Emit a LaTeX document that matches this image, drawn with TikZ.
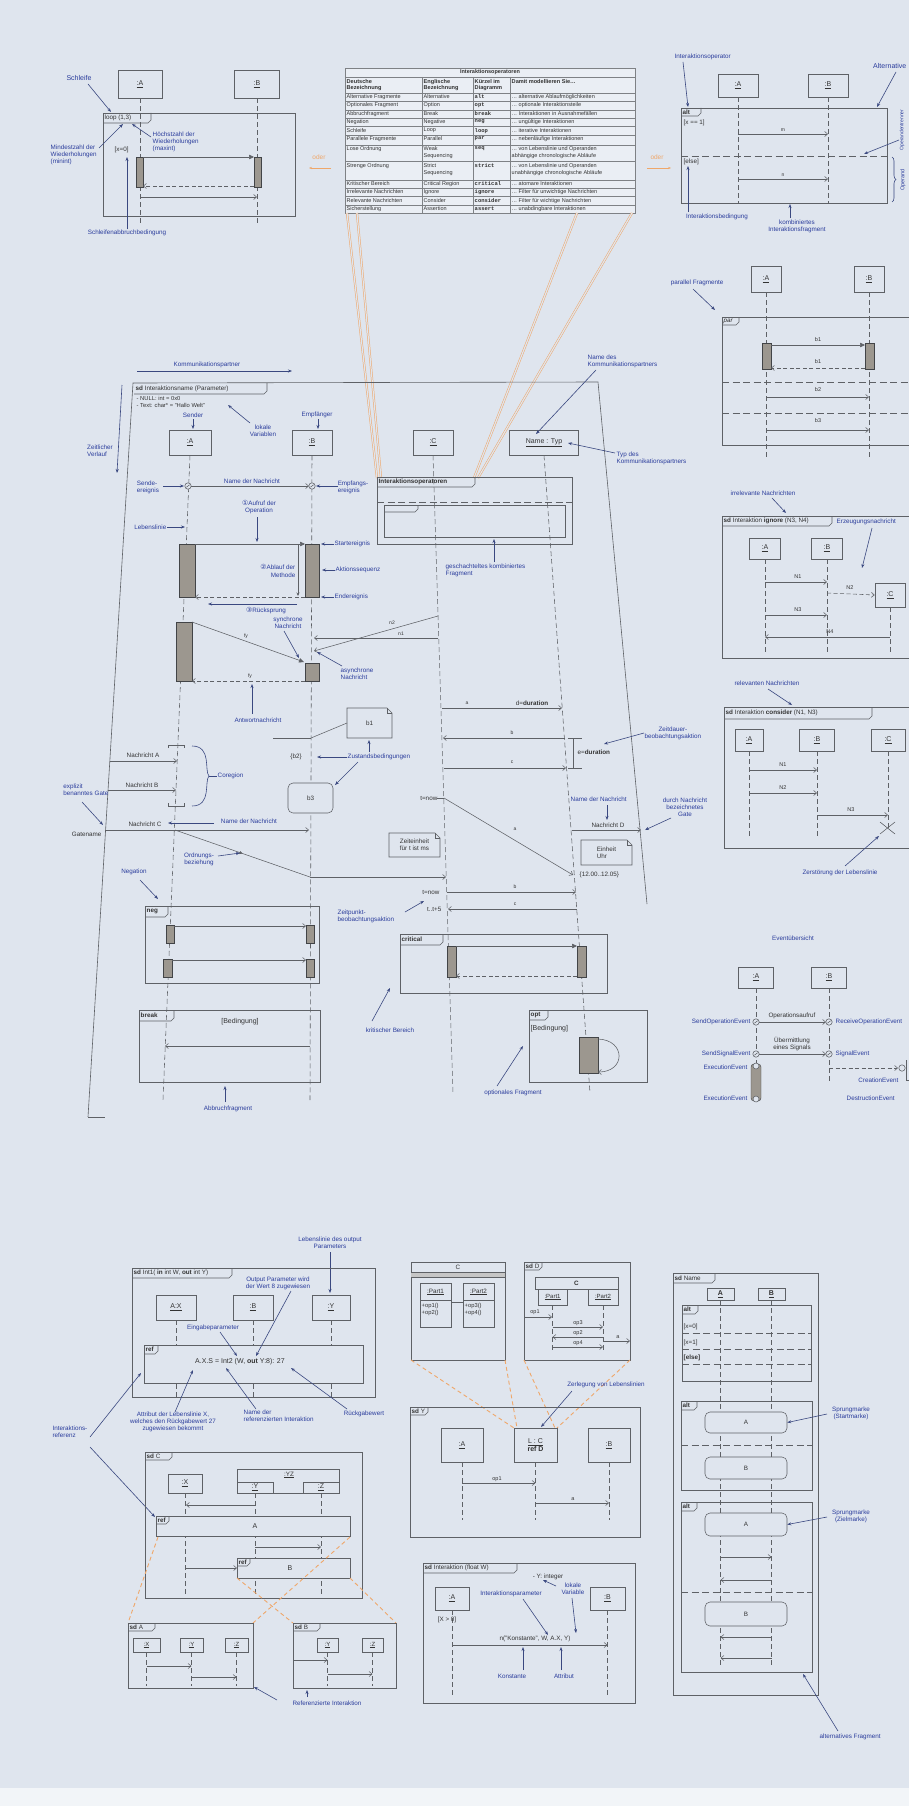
\documentclass[tikz,border=0pt]{standalone}
\usepackage{fontspec}
\setmainfont{Liberation Sans}
\setmonofont{Liberation Mono}
\newfontfamily\dvs{DejaVu Sans}
\usetikzlibrary{arrows.meta,decorations.pathreplacing,decorations.markings,calc}
\definecolor{bgc}{HTML}{DFE5EE}
\definecolor{linec}{HTML}{5E6166}
\definecolor{bluec}{HTML}{2A3C9C}
\definecolor{arrc}{HTML}{3A4880}
\definecolor{barc}{HTML}{9C978F}
\definecolor{orc}{HTML}{EFA76A}
\definecolor{txtc}{HTML}{333333}
\tikzset{
 ln/.style={draw=linec, line width=0.55pt},
 life/.style={draw=linec, line width=0.55pt, dash pattern=on 5pt off 3pt},
 msg/.style={draw=linec, line width=0.55pt, -{Straight Barb[length=3pt,width=5pt]}},
 syncm/.style={draw=linec, line width=0.55pt, -{Triangle[length=5pt,width=4.5pt]}},
 retm/.style={msg, dash pattern=on 4pt off 2.5pt},
 fsep/.style={draw=linec, line width=0.6pt, dash pattern=on 7pt off 3.5pt},
 frm/.style={draw=linec, line width=0.6pt},
 actbar/.style={draw=linec!70!black, fill=barc, line width=0.4pt},
 lbox/.style={draw=linec, line width=0.55pt, inner sep=0pt, text=txtc, font=\fontsize{7}{8}\selectfont},
 lbl/.style={text=bluec, font=\fontsize{6.3}{7.2}\selectfont, inner sep=0.5pt, align=center},
 blk/.style={text=txtc, font=\fontsize{6.3}{7.2}\selectfont, inner sep=0.5pt, align=center},
 larr/.style={draw=arrc, line width=0.6pt, -{Stealth[length=4pt,width=3pt]}},
 oline/.style={draw=orc, line width=0.5pt, double=bgc, double distance=1.2pt},
 odash/.style={draw=orc, line width=0.9pt, dash pattern=on 4pt off 3pt},
 tabtxt/.style={text=txtc, font=\fontsize{6.3}{7}\selectfont, inner sep=1pt},
 tc/.style={text=txtc, font=\fontsize{5.5}{6.6}\selectfont, inner sep=1pt, align=left},
 tline/.style={draw=linec!80, line width=0.4pt},
}
% fragment tab: x y w h text
\newcommand\fragtab[5]{%
 \draw[frm] (#1,#2+#4) -- (#1+#3-3,#2+#4) -- (#1+#3,#2+#4-3) -- (#1+#3,#2);
 \node[tabtxt, anchor=west] at (#1+0.5,#2+#4/2) {#5};}
% note: x1 y1 x2 y2 text
\newcommand\notebox[5]{%
 \draw[frm] (#1,#2) -- (#3-5,#2) -- (#3,#2+5) -- (#3,#4) -- (#1,#4) -- cycle;
 \draw[frm] (#3-5,#2) -- (#3-5,#2+5) -- (#3,#2+5);
 \node[blk, align=left] at ({(#1+#3)/2},{(#2+#4)/2}) {#5};}
% event circle
\newcommand\evc[2]{\draw[ln, fill=bgc] (#1,#2) circle (3.2pt); \draw[ln] (#1-1.6,#2+1.2) -- (#1+1.6,#2-1.2);}
% table row: ytop de en kz desc ybottom
\newcommand\trow[6]{%
 \node[tc,anchor=north west] at (345.5,#1) {#2};
 \node[tc,anchor=north west] at (422.5,#1) {#3};
 \node[tc,anchor=north west,font={\fontsize{5.5}{6.6}\selectfont\ttfamily\bfseries}] at (473.5,#1) {#4};
 \node[tc,anchor=north west] at (510.5,#1) {#5};
 \draw[tline] (345,#6) -- (635,#6);}
\begin{document}
\begin{tikzpicture}[x=1pt,y=-1pt]
\useasboundingbox (0,0) rectangle (909,1806);
\fill[bgc] (0,0) rectangle (909,1806);
\fill[white!60!bgc] (0,1788) rectangle (909,1806);

%================ 1: loop =================
\node[lbox,minimum width=44,minimum height=28] (L1A) at (140,84) {\underline{:A}};
\node[lbox,minimum width=45,minimum height=28] (L1B) at (257,84) {\underline{:B}};
\draw[life] (L1A.south) -- ++(0,126);
\draw[life] (L1B.south) -- ++(0,126);
\draw[frm] (103,113) rectangle (295,216);
\fragtab{103}{113}{48}{10}{loop (1,3)}
\draw[actbar] (136,157) rectangle (143,187);
\draw[actbar] (254,157) rectangle (261,187);
\draw[syncm] (143,157) -- (254,157);
\draw[retm] (254,186) -- (143,186);
\draw[msg] (140,197) -- (257,197);
\node[blk, anchor=west] (lc1) at (114,150) {[x=0]};
\node[lbl, font=\fontsize{7}{8}\selectfont] (schl) at (79,78) {Schleife};
\draw[larr] (88,84) -- (111,112);
\node[lbl, align=left, anchor=west] (minl) at (50,155) {Mindestzahl der\\Wiederholungen\\(minint)};
\draw[larr] (99,148) -- (123,124);
\node[lbl, align=left, anchor=west] (maxl) at (152,142) {Höchstzahl der\\Wiederholungen\\(maxint)};
\draw[larr] (151,137) -- (132,124);
\node[lbl] (abbr) at (127,233) {Schleifenabbruchbedingung};
\draw[larr] (abbr.north) -- (127,157);
\node[text=orc, font=\fontsize{6.5}{7}\selectfont] (oder1) at (319,157) {oder};
\draw[draw=orc, line width=0.7pt, -{Stealth[length=3pt]}] (331,168) -- (309,168);

%================ 2: table =================
\fill[white!35!bgc] (345,68) rectangle (635,213);
\draw[tline] (345,68) rectangle (635,213);
\draw[tline] (345,77) -- (635,77);
\draw[tline] (345,93) -- (635,93);
\foreach \cx in {422,473,510} \draw[tline] (\cx,77) -- (\cx,213);
\node[tc, font={\fontsize{5.5}{6.6}\selectfont\bfseries}] (tabh) at (490,72.5) {Interaktionsoperatoren};
\node[tc,anchor=north west,font={\fontsize{5.6}{6.4}\selectfont\bfseries}] at (345.5,78) {Deutsche\\Bezeichnung};
\node[tc,anchor=north west,font={\fontsize{5.6}{6.4}\selectfont\bfseries}] at (422.5,78) {Englische\\Bezeichnung};
\node[tc,anchor=north west,font={\fontsize{5.6}{6.4}\selectfont\bfseries}] at (473.5,78) {Kürzel im\\Diagramm};
\node[tc,anchor=north west,font={\fontsize{5.6}{6.4}\selectfont\bfseries}] at (510.5,78) {Damit modellieren Sie…};
\trow{93.2}{Alternative Fragmente}{Alternative}{alt}{… alternative Ablaufmöglichkeiten}{101.3}
\trow{101.5}{Optionales Fragment}{Option}{opt}{… optionale Interaktionsteile}{110}
\trow{110.2}{Abbruchfragment}{Break}{break}{… Interaktionen in Ausnahmefällen}{118.3}
\trow{118.5}{Negation}{Negative}{neg}{… ungültige Interaktionen}{126.7}
\trow{126.9}{Schleife}{Loop}{loop}{… iterative Interaktionen}{135}
\trow{135.5}{Parallele Fragmente}{Parallel}{par}{… nebenläufige Interaktionen}{145}
\trow{145.5}{Lose Ordnung}{Weak\\Sequencing}{seq}{… von Lebenslinie und Operanden\\abhängige chronologische Abläufe}{161.7}
\trow{162.5}{Strenge Ordnung}{Strict\\Sequencing}{strict}{… von Lebenslinie und Operanden\\unabhängige chronologische Abläufe}{180}
\trow{180.2}{Kritischer Bereich}{Critical Region}{critical}{… atomare Interaktionen}{188.3}
\trow{188.5}{Irrelevante Nachrichten}{Ignore}{ignore}{… Filter für unwichtige Nachrichten}{196.7}
\trow{196.9}{Relevante Nachrichten}{Consider}{consider}{… Filter für wichtige Nachrichten}{205}
\trow{205.2}{Sicherstellung}{Assertion}{assert}{… unabdingbare Interaktionen}{213}

%================ 3: alt top right =================
\node[lbox,minimum width=40,minimum height=23] (L3A) at (738,85.5) {\underline{:A}};
\node[lbox,minimum width=40,minimum height=23] (L3B) at (828,85.5) {\underline{:B}};
\draw[life] (L3A.south) -- (738,203);
\draw[life] (L3B.south) -- (828,203);
\draw[frm] (681,108) rectangle (887,203);
\fragtab{681}{108}{20}{8}{\textbf{alt}}
\node[blk, anchor=west] (c3a) at (683,123) {[x == 1]};
\draw[msg] (738,134) -- (828,134);
\node[blk, font=\fontsize{5}{6}\selectfont] at (783,130) {m};
\draw[fsep] (681,156) -- (887,156);
\node[blk, anchor=west] (c3b) at (683,162) {[else]};
\draw[msg] (738,179) -- (828,179);
\node[blk, font=\fontsize{5}{6}\selectfont] at (783,175) {n};
\node[lbl, anchor=west] (iop) at (674,57) {Interaktionsoperator};
\draw[larr] (683,62) -- (688,107);
\node[lbl, anchor=east, font=\fontsize{7}{8}\selectfont] (altl) at (907,66) {Alternative};
\draw[larr] (896,72) -- (877,107);
\node[lbl] (ibed) at (717,217) {Interaktionsbedingung};
\draw[larr] (688,212) -- (688,166);
\node[lbl] (kif) at (797,226) {kombiniertes\\Interaktionsfragment};
\draw[larr] (790,218) -- (790,204);
\node[lbl, rotate=90, font=\fontsize{5}{6}\selectfont] (otr) at (902,130) {Operandentrenner};
\draw[larr] (899,140) -- (864,154);
\draw[draw=arrc, line width=0.6pt, decorate, decoration={brace, amplitude=4pt}] (892,157) -- (892,202);
\node[lbl, rotate=90, font=\fontsize{5.5}{6}\selectfont] (opd) at (903,180) {Operand};
\node[text=orc, font=\fontsize{6.5}{7}\selectfont] (oder2) at (657,157) {oder};
\draw[draw=orc, line width=0.7pt, -{Stealth[length=3pt]}] (647,168) -- (671,168);

%================ orange lines table -> operators =================
\draw[oline] (347,213) -- (377,478);
\draw[oline] (357,213) -- (381,478);
\draw[oline] (577,213) -- (474,478);
\draw[oline] (632,213) -- (478,478);

%================ 4: main diagram =================
\node[lbl] (komm) at (207,365) {Kommunikationspartner};
\draw[larr] (137,371) -- (292,371);
\node[lbl, align=left] (zeit) at (100,451) {Zeitlicher\\Verlauf};
\draw[larr] (122,385) -- (117,473);
\draw[frm] (88,1117) -- (133,383) -- (598,382) -- (647,904);
\draw[frm] (88,1117) -- (105,1117);
\fragtab{134}{383}{133}{11}{\textbf{sd} Interaktionsname (Parameter)}
\node[blk, anchor=north west, align=left, font=\fontsize{5.8}{6.5}\selectfont] (locv) at (136,396) {- NULL: int = 0x0\\- Text: char* = "Hallo Welt"};
\node[lbl] (lokv) at (263,431) {lokale\\Variablen};
\draw[larr] (250,423) -- (228,405);
% lifeline heads
\node[lbox,minimum width=42,minimum height=25] (mA) at (190,442.5) {\underline{:A}};
\node[lbox,minimum width=40,minimum height=25] (mB) at (312,442.5) {\underline{:B}};
\node[lbox,minimum width=40,minimum height=25] (mC) at (433,442.5) {\underline{:C}};
\node[lbox,minimum width=69,minimum height=25] (mN) at (544,442.5) {\underline{Name : Typ}};
\draw[life] (mA.south) -- (163,1100);
\draw[life] (mB.south) -- (310,1100);
\draw[life] (mC.south) -- (453,1093);
\draw[life] (mN.south) -- (590,1093);
\node[lbl] (snd) at (193,415) {Sender};
\draw[larr] (193,419) -- (193,429);
\node[lbl] (emp) at (317,415) {Empfänger};
\draw[larr] (318,419) -- (318,429);
% first message
\evc{188}{486}\evc{312}{486}
\draw[msg] (191,486) -- (309,486);
\node[lbl] (ndn1) at (252,481) {Name der Nachricht};
\node[lbl, align=left] (sev) at (148,487) {Sende-\\ereignis};
\draw[larr] (163,486) -- (184,486);
\node[lbl, align=left] (eev) at (353,487) {Empfangs-\\ereignis};
\draw[larr] (338,486) -- (316,486);
\node[lbl] (aufr) at (259,507) {{\dvs\fontsize{7}{7}\selectfont ①}Aufruf der\\Operation};
\draw[larr] (257,517) -- (257,542);
\node[lbl, anchor=east] (lebl) at (167,527) {Lebenslinie};
\draw[larr] (lebl.east) -- (185,527);
% interaction operators fragment
\draw[frm] (377,477) rectangle (572,544);
\fragtab{377}{477}{98}{10}{\textbf{Interaktionsoperatoren}}
\draw[fsep] (377,502) -- (572,502);
\draw[frm] (384,505) rectangle (565,537);
\fragtab{384}{505}{34}{7}{}
\node[lbl, anchor=north west, align=left] (gkf) at (445,563) {geschachteltes kombiniertes\\Fragment};
\draw[larr] (494,562) -- (494,539);
\node[lbl, anchor=west, align=left] (ndk) at (587,361) {Name des\\Kommunikationspartners};
\draw[larr] (596,370) -- (536,434);
\node[lbl, anchor=west, align=left] (tdk) at (616,458) {Typ des\\Kommunikationspartners};
\draw[larr] (615,453) -- (568,443);
% activation 1
\draw[actbar] (179,544) rectangle (195,597);
\draw[actbar] (305,544) rectangle (319,597);
\draw[syncm] (195,544) -- (305,544);
\draw[ln, -{Stealth[length=3.5pt,width=3pt]}] (298,545) -- (298,596);
\draw[retm] (305,597) -- (195,597);
\node[lbl, anchor=east, align=right] (abl) at (296,571) {{\dvs\fontsize{7}{7}\selectfont ②}Ablauf der\\Methode};
\draw[larr] (297,604) -- (208,604);
\node[lbl] (rsp) at (266,611) {{\dvs\fontsize{7}{7}\selectfont ③}Rücksprung};
\node[lbl, anchor=west] (stev) at (334,544) {Startereignis};
\draw[larr] (stev.west) -- (321,544);
\node[lbl, anchor=west] (akts) at (335,570) {Aktionssequenz};
\draw[larr] (akts.west) -- (322,570);
\node[lbl, anchor=west] (endev) at (334,597) {Endereignis};
\draw[larr] (endev.west) -- (321,597);
% activation 2
\draw[actbar] (176,622) rectangle (192,681);
\draw[actbar] (305,663) rectangle (319,681);
\draw[syncm] (192,622) -- (304,662);
\node[blk, font=\fontsize{5}{6}\selectfont] at (246,636) {fy};
\draw[retm] (305,681) -- (192,681);
\node[blk, font=\fontsize{5}{6}\selectfont] at (250,676) {fy};
\node[lbl] (synn) at (288,623) {synchrone\\Nachricht};
\draw[larr] (284,631) -- (299,658);
\draw[msg] (438,616) -- (314,651);
\node[blk, font=\fontsize{5}{6}\selectfont] at (392,623) {n2};
\draw[msg] (438,638) -- (314,638);
\node[blk, font=\fontsize{5}{6}\selectfont] at (401,634) {n1};
\node[lbl, align=left] (asyn) at (357,674) {asynchrone\\Nachricht};
\draw[larr] (342,666) -- (317,652);
\node[lbl] (antw) at (258,720) {Antwortnachricht};
\draw[larr] (252,714) -- (252,684);
% states
\notebox{347}{708}{392}{738}{b1}
\draw[ln] (347,723) -- (311,738);
\draw[ln] (273,738) -- (311,738);
\node[blk] (b2) at (296,757) {\{b2\}};
\node[lbl, anchor=west] (zust) at (347,757) {Zustandsbedingungen};
\draw[larr] (zust.west) -- (317,757);
\draw[larr] (369,752) -- (369,740);
\draw[larr] (358,762) -- (335,785);
\node[draw=linec, line width=0.55pt, fill=bgc, rounded corners=5pt, minimum width=45, minimum height=30, blk] (b3) at (310.5,798) {b3};
% coregion
\draw[ln] (168,748) -- (168,745) -- (184,745) -- (184,748);
\draw[ln] (168,803) -- (168,806) -- (184,806) -- (184,803);
\draw[msg] (110,761) -- (177,761);
\node[blk] (nA) at (143,755) {Nachricht A};
\draw[msg] (108,790) -- (176,790);
\node[blk] (nB) at (142,785) {Nachricht B};
\draw[draw=arrc, line width=0.6pt] (192,746) .. controls (212,746) and (204,771) .. (209,776) .. controls (204,781) and (212,806) .. (192,806);
\node[lbl, anchor=west] (coreg) at (217,776) {Coregion};
\draw[draw=arrc, line width=0.6pt] (209,776) -- (coreg.west);
% gates
\node[lbl, anchor=east, align=left] (exg) at (109,790) {explizit\\benanntes Gate};
\draw[larr] (82,802) -- (103,825);
\node[blk, anchor=east] (gname) at (102,834) {Gatename};
\draw[msg] (105,830) -- (309,830);
\node[blk] (nC) at (145,824) {Nachricht C};
\node[lbl] (ndn2) at (249,821) {Name der Nachricht};
\draw[larr] (214,823) -- (168,823);
\draw[ln, postaction={decorate, decoration={markings, mark=at position 0.5 with {\arrow{Triangle[length=3pt,width=3pt]}}}}] (175,830) -- (310,877);
\draw[msg] (310,877) -- (446,877);
\node[lbl] (ordb) at (199,859) {Ordnungs-\\beziehung};
\draw[larr] (218,856) -- (240,853);
% neg
\node[lbl] (negl) at (134,872) {Negation};
\draw[larr] (140,880) -- (158,899);
\draw[frm] (145,906) rectangle (319,983);
\fragtab{145}{906}{23}{11}{\textbf{neg}}
\draw[actbar] (166,925) rectangle (174,943);
\draw[actbar] (163,959) rectangle (172,977);
\draw[actbar] (306,925) rectangle (314,943);
\draw[actbar] (306,959) rectangle (314,977);
\draw[msg] (174,926) -- (306,926);
\draw[msg] (172,960) -- (306,960);
% break
\draw[frm] (139,1010) rectangle (320,1082);
\fragtab{139}{1010}{35}{11}{\textbf{break}}
\node[blk, font=\fontsize{7}{8}\selectfont] (bed1) at (240,1022) {[Bedingung]};
\draw[msg] (310,1046) -- (165,1046);
\node[lbl] (abfr) at (228,1109) {Abbruchfragment};
\draw[larr] (225,1102) -- (225,1086);
% durations
\draw[msg] (442,708) -- (562,708);
\node[blk, font=\fontsize{5}{6}\selectfont] at (467,703) {a};
\node[blk] (dd) at (532,703) {d=\textbf{duration}};
\draw[msg] (565,738) -- (443,738);
\node[blk, font=\fontsize{5}{6}\selectfont] at (512,733) {b};
\draw[msg] (444,768) -- (566,768);
\node[blk, font=\fontsize{5}{6}\selectfont] at (512,762) {c};
\draw[ln] (573,738) -- (573,768);
\draw[ln] (568,738) -- (582,738);
\draw[ln] (568,768) -- (582,768);
\node[blk, anchor=west] (ed) at (577,752) {e=\textbf{duration}};
\node[lbl, anchor=west] (zdb) at (644,733) {Zeitdauer-\\beobachtungsaktion};
\draw[larr] (zdb.west) -- (604,744);
% time points
\node[blk, anchor=east] (tnow1) at (438,798) {t=now};
\draw[ln] (437,798) -- (444,798);
\draw[msg] (444,798) -- (573,875);
\node[blk, font=\fontsize{5}{6}\selectfont] at (515,829) {a};
\node[lbl, anchor=west] (ndn3) at (570,799) {Name der Nachricht};
\draw[larr] (607,805) -- (607,820);
\draw[msg] (572,830) -- (641,830);
\node[blk] (nD) at (608,825) {Nachricht D};
\node[lbl] (gate2) at (685,807) {durch Nachricht\\bezeichnetes\\Gate};
\draw[larr] (671,818) -- (645,830);
\notebox{581}{840}{632}{865}{Einheit\\Uhr}
\node[blk, anchor=west] (clk) at (579,875) {\{12.00..12.05\}};
\notebox{389}{833}{440}{857}{Zeiteinheit\\für t ist ms}
\node[blk, anchor=east] (tnow2) at (440,892) {t=now};
\draw[msg] (447,892) -- (576,892);
\node[blk, font=\fontsize{5}{6}\selectfont] at (515,887) {b};
\node[blk, anchor=east] (tt5) at (442,909) {t..t+5};
\draw[msg] (577,909) -- (448,909);
\node[blk, font=\fontsize{5}{6}\selectfont] at (515,904) {c};
\node[lbl, anchor=west, align=left] (zpb) at (337,916) {Zeitpunkt-\\beobachtungsaktion};
\draw[larr] (405,912) -- (424,901);
% critical
\draw[frm] (400,934) rectangle (607,993);
\fragtab{400}{934}{43}{11}{\textbf{critical}}
\draw[actbar] (447,946) rectangle (456,977);
\draw[actbar] (577,946) rectangle (586,977);
\draw[syncm] (456,946) -- (577,946);
\draw[retm] (577,976) -- (456,976);
\node[lbl] (krit) at (390,1030) {kritischer Bereich};
\draw[larr] (372,1021) -- (390,988);
% opt
\draw[frm] (529,1010) rectangle (647,1082);
\fragtab{529}{1010}{19}{10}{\textbf{opt}}
\node[blk, anchor=west, font=\fontsize{7}{8}\selectfont] (bed2) at (530,1029) {[Bedingung]};
\draw[actbar] (579,1037) rectangle (598,1073);
\draw[msg] (598,1039) .. controls (626,1040) and (626,1072) .. (598,1072);
\node[lbl] (optf) at (513,1093) {optionales Fragment};
\draw[larr] (497,1086) -- (523,1046);

%================ 5: par =================
\node[lbox,minimum width=30,minimum height=26] (pA) at (766,279) {\underline{:A}};
\node[lbox,minimum width=30,minimum height=26] (pB) at (869,279) {\underline{:B}};
\draw[life] (pA.south) -- (766,458);
\draw[life] (pB.south) -- (869,458);
\draw[frm] (722,317) rectangle (915,445);
\fragtab{722}{317}{17}{8}{\textit{par}}
\node[lbl, anchor=east] (parl) at (724,283) {parallel Fragmente};
\draw[larr] (693,289) -- (715,310);
\draw[actbar] (762,343) rectangle (771,369);
\draw[actbar] (865,343) rectangle (874,369);
\draw[syncm] (771,345) -- (865,345);
\node[blk, font=\fontsize{5.5}{6}\selectfont] at (818,340) {b1};
\draw[retm] (865,368) -- (771,368);
\node[blk, font=\fontsize{5.5}{6}\selectfont] at (818,362) {b1};
\draw[fsep] (722,382) -- (909,382);
\draw[msg] (766,397) -- (869,397);
\node[blk, font=\fontsize{5.5}{6}\selectfont] at (818,390) {b2};
\draw[fsep] (722,413) -- (909,413);
\draw[msg] (766,430) -- (869,430);
\node[blk, font=\fontsize{5.5}{6}\selectfont] at (818,421) {b3};

%================ 6: ignore =================
\node[lbl] (irr) at (763,493) {irrelevante Nachrichten};
\draw[larr] (772,498) -- (786,513);
\draw[frm] (722,516) rectangle (915,658);
\fragtab{722}{516}{110}{10}{\textbf{sd} Interaktion \textbf{ignore} (N3, N4)}
\node[lbox,minimum width=31,minimum height=21] (iA) at (765,548.5) {\underline{:A}};
\node[lbox,minimum width=31,minimum height=21] (iB) at (827,548.5) {\underline{:B}};
\node[lbox,minimum width=30,minimum height=24] (iC) at (890,595) {\underline{:C}};
\draw[life] (iA.south) -- (765,652);
\draw[life] (iB.south) -- (827,652);
\draw[life] (iC.south) -- (890,652);
\draw[msg] (765,582) -- (827,582);
\node[blk, font=\fontsize{5.5}{6}\selectfont] at (798,577) {N1};
\draw[retm] (827,593) -- (iC.west);
\node[blk, font=\fontsize{5.5}{6}\selectfont] at (850,588) {N2};
\draw[msg] (765,615) -- (827,615);
\node[blk, font=\fontsize{5.5}{6}\selectfont] at (798,610) {N3};
\draw[msg] (890,637) -- (765,637);
\node[blk, font=\fontsize{5.5}{6}\selectfont] at (830,632) {N4};
\node[lbl, anchor=west] (erz) at (836,522) {Erzeugungsnachricht};
\draw[larr] (872,528) -- (862,568);

%================ 7: consider =================
\node[lbl] (rel) at (767,683) {relevanten Nachrichten};
\draw[larr] (768,689) -- (792,705);
\draw[frm] (724,707) rectangle (915,848);
\fragtab{724}{707}{148}{12}{\textbf{sd} Interaktion \textbf{consider} (N1, N3)}
\node[lbox,minimum width=28,minimum height=22] (cA) at (749,740) {\underline{:A}};
\node[lbox,minimum width=35,minimum height=22] (cB) at (817,740) {\underline{:B}};
\node[lbox,minimum width=34,minimum height=22] (cC) at (888,740) {\underline{:C}};
\draw[life] (cA.south) -- (749,837);
\draw[life] (cB.south) -- (817,837);
\draw[life] (cC.south) -- (888,828);
\draw[msg] (749,770) -- (817,770);
\node[blk, font=\fontsize{5.5}{6}\selectfont] at (783,765) {N1};
\draw[msg] (749,793) -- (817,793);
\node[blk, font=\fontsize{5.5}{6}\selectfont] at (783,788) {N2};
\draw[msg] (817,815) -- (888,815);
\node[blk, font=\fontsize{5.5}{6}\selectfont] at (851,810) {N3};
\draw[ln] (880,822) -- (895,834);
\draw[ln] (880,834) -- (895,822);
\node[lbl] (zerst) at (840,873) {Zerstörung der Lebenslinie};
\draw[larr] (845,866) -- (879,836);

%================ 8: events =================
\node[lbl] (evu) at (793,938) {Eventübersicht};
\node[lbox,minimum width=35,minimum height=21] (eA) at (756,977.5) {\underline{:A}};
\node[lbox,minimum width=35,minimum height=21] (eB) at (829,977.5) {\underline{:B}};
\draw[life] (eA.south) -- (756,1083);
\draw[life] (eB.south) -- (829,1083);
\draw[msg] (759,1022) -- (826,1022);
\evc{756}{1022}\evc{829}{1022}
\node[blk] (opa) at (792,1016) {Operationsaufruf};
\node[lbl, anchor=east] (soe) at (751,1022) {SendOperationEvent};
\node[lbl, anchor=west] (roe) at (835,1022) {ReceiveOperationEvent};
\node[blk] (ues) at (792,1044) {Übermittlung\\eines Signals};
\draw[msg] (759,1054) -- (826,1054);
\evc{756}{1054}\evc{829}{1054}
\node[lbl, anchor=east] (sse) at (751,1054) {SendSignalEvent};
\node[lbl, anchor=west] (sie) at (835,1054) {SignalEvent};
\draw[actbar, rounded corners=3pt] (751,1064) rectangle (761,1101);
\draw[ln, fill=bgc] (756,1066) circle (3pt);
\draw[ln, fill=bgc] (756,1099) circle (3pt);
\node[lbl, anchor=east] (exe1) at (748,1067) {ExecutionEvent};
\node[lbl, anchor=east] (exe2) at (748,1098) {ExecutionEvent};
\draw[retm] (829,1068) -- (898,1068);
\draw[ln, fill=bgc] (902,1068) circle (3.2pt);
\draw[ln] (906,1060) -- (906,1080) -- (915,1080);
\node[lbl, anchor=east] (cre) at (899,1080) {CreationEvent};
\node[lbl, anchor=west] (dse) at (846,1098) {DestructionEvent};

%================ 9: bottom left =================
\node[lbl] (lop) at (330,1243) {Lebenslinie des output\\Parameters};
\draw[larr] (330,1252) -- (330,1293);
\draw[frm] (132,1268) rectangle (375,1397);
\fragtab{132}{1268}{100}{10}{\textbf{sd} Int1( \textbf{in} int W, \textbf{out} int Y)}
\node[lbl] (opw) at (278,1283) {Output Parameter wird\\der Wert 8 zugewiesen};
\node[lbox,minimum width=40,minimum height=25] (bAX) at (176,1307.5) {\underline{A:X}};
\node[lbox,minimum width=40,minimum height=25] (bB) at (253,1307.5) {\underline{:B}};
\node[lbox,minimum width=38,minimum height=25] (bY) at (331,1307.5) {\underline{:Y}};
\draw[life] (bAX.south) -- (176,1397);
\draw[life] (bB.south) -- (253,1397);
\draw[life] (bY.south) -- (331,1397);
\node[lbl] (eing) at (213,1328) {Eingabeparameter};
\draw[frm, fill=bgc] (144,1345) rectangle (363,1383);
\fragtab{144}{1345}{14}{9}{\textbf{ref}}
\node[blk, font=\fontsize{7}{8}\selectfont] (refx) at (240,1362) {A.X.S = Int2 (W, \textbf{out} Y:8): 27};
\draw[larr] (220,1332) -- (237,1356);
\draw[larr] (291,1291) -- (256,1356);
\node[lbl] (attr) at (173,1422) {Attribut der Lebenslinie X,\\welches den Rückgabewert 27\\zugewiesen bekommt};
\draw[larr] (175,1412) -- (193,1370);
\node[lbl, anchor=north west, align=left] (ndri) at (243,1409) {Name der\\referenzierten Interaktion};
\draw[larr] (256,1409) -- (226,1368);
\node[lbl] (rgw) at (364,1414) {Rückgabewert};
\draw[larr] (347,1409) -- (291,1368);
\node[lbl, anchor=east, align=left] (iref) at (88,1432) {Interaktions-\\referenz};
\draw[larr] (90,1437) -- (141,1373);
\draw[larr] (90,1447) -- (155,1517);
% sd C
\draw[frm] (145,1452) rectangle (362,1598);
\fragtab{145}{1452}{27}{8}{\textbf{sd} C}
\node[lbox,minimum width=34,minimum height=19] (sX) at (185,1483.5) {\underline{:X}};
\draw[frm] (237,1469) rectangle (339,1493);
\node[tabtxt] (sYZ) at (289,1475) {\underline{:YZ}};
\node[lbox,minimum width=36,minimum height=11] (sY) at (255,1487.5) {\underline{:Y}};
\node[lbox,minimum width=36,minimum height=11] (sZ) at (321,1487.5) {\underline{:Z}};
\draw[life] (sX.south) -- (185,1597);
\draw[life] (sY.south) -- (255,1597);
\draw[life] (sZ.south) -- (321,1597);
\draw[msg] (255,1505) -- (186,1505);
\draw[frm, fill=bgc] (156,1516) rectangle (350,1536);
\fragtab{156}{1516}{13}{8}{\textbf{ref}}
\node[blk, font=\fontsize{7}{8}\selectfont] (rA) at (255,1526) {A};
\draw[msg] (255,1547) -- (321,1547);
\draw[frm, fill=bgc] (237,1558) rectangle (350,1578);
\fragtab{237}{1558}{13}{8}{\textbf{ref}}
\node[blk, font=\fontsize{7}{8}\selectfont] (rB) at (290,1568) {B};
\draw[msg] (185,1568) -- (237,1568);
\draw[odash] (158,1537) -- (128,1623);
\draw[odash] (350,1537) -- (253,1623);
\draw[odash] (237,1578) -- (293,1623);
\draw[odash] (350,1578) -- (396,1623);
% sd A
\draw[frm] (128,1623) rectangle (253,1688);
\fragtab{128}{1623}{27}{8}{\textbf{sd} A}
\node[lbox,minimum width=27,minimum height=14, font=\fontsize{6}{7}\selectfont] (aX) at (146.5,1645) {\underline{:X}};
\node[lbox,minimum width=23,minimum height=14, font=\fontsize{6}{7}\selectfont] (aY) at (191.5,1645) {\underline{:Y}};
\node[lbox,minimum width=23,minimum height=14, font=\fontsize{6}{7}\selectfont] (aZ) at (236.5,1645) {\underline{:Z}};
\draw[life] (aX.south) -- (146.5,1686);
\draw[life] (aY.south) -- (191.5,1686);
\draw[life] (aZ.south) -- (236.5,1686);
\draw[msg] (146.5,1666) -- (191.5,1666);
\draw[msg] (191.5,1677) -- (236.5,1677);
% sd B
\draw[frm] (293,1623) rectangle (396,1688);
\fragtab{293}{1623}{27}{8}{\textbf{sd} B}
\node[lbox,minimum width=21,minimum height=14, font=\fontsize{6}{7}\selectfont] (bY2) at (327.5,1645) {\underline{:Y}};
\node[lbox,minimum width=21,minimum height=14, font=\fontsize{6}{7}\selectfont] (bZ2) at (372.5,1645) {\underline{:Z}};
\draw[life] (bY2.south) -- (327.5,1686);
\draw[life] (bZ2.south) -- (372.5,1686);
\draw[msg] (293,1660) -- (327.5,1660);
\draw[msg] (327.5,1674) -- (372.5,1674);
\node[lbl] (refi) at (327,1703) {Referenzierte Interaktion};
\draw[larr] (307,1697) -- (307,1690);
\draw[larr] (277,1700) -- (254,1687);

%================ 10: bottom middle =================
\draw[frm] (411,1262) rectangle (505,1360);
\node[tabtxt] (clC) at (458,1267) {C};
\fill[gray!45] (411,1272) rectangle (505,1277);
\draw[frm] (411,1272) -- (505,1272);
\draw[frm] (411,1277) -- (505,1277);
\draw[frm] (420,1283) rectangle (451,1327);
\draw[frm] (420,1300) -- (451,1300);
\node[tabtxt] (p1) at (435.5,1292) {\underline{:Part1}};
\node[tabtxt, anchor=north west, align=left, font=\fontsize{5.8}{6.8}\selectfont] at (420.5,1302) {+op1()\\+op2()};
\draw[frm] (463,1283) rectangle (494,1327);
\draw[frm] (463,1300) -- (494,1300);
\node[tabtxt] (p2) at (478.5,1292) {\underline{:Part2}};
\node[tabtxt, anchor=north west, align=left, font=\fontsize{5.8}{6.8}\selectfont] at (463.5,1302) {+op3()\\+op4()};
\draw[frm] (451,1302) -- (463,1302);
% sd D
\draw[frm] (524,1262) rectangle (630,1360);
\fragtab{524}{1262}{18}{8}{\textbf{sd} D}
\draw[frm] (535,1277) rectangle (618,1289);
\node[tabtxt] (dC) at (576.5,1283) {\textbf{C}};
\node[lbox,minimum width=29,minimum height=16, font=\fontsize{6}{7}\selectfont] (dP1) at (552.5,1297) {\underline{:Part1}};
\node[lbox,minimum width=30,minimum height=16, font=\fontsize{6}{7}\selectfont] (dP2) at (603,1297) {\underline{:Part2}};
\draw[life] (dP1.south) -- (552.5,1352);
\draw[life] (dP2.south) -- (603,1352);
\draw[msg] (524,1317) -- (552,1317);
\node[blk, font=\fontsize{5.5}{6}\selectfont] at (535,1312.5) {op1};
\draw[msg] (552.5,1327) -- (603,1327);
\node[blk, font=\fontsize{5.5}{6}\selectfont] at (578,1323) {op3};
\draw[msg] (603,1337) -- (552.5,1337);
\node[blk, font=\fontsize{5.5}{6}\selectfont] at (578,1333.5) {op2};
\draw[msg] (552.5,1347) -- (603,1347);
\node[blk, font=\fontsize{5.5}{6}\selectfont] at (578,1343.5) {op4};
\draw[msg] (603,1341) -- (630,1341);
\node[blk, font=\fontsize{5.5}{6}\selectfont] at (618,1337.5) {a};
% orange dashes to L:C
\draw[odash] (411,1360) -- (514,1428);
\draw[odash] (505,1360) -- (517,1428);
\draw[odash] (524,1360) -- (555,1428);
\draw[odash] (630,1360) -- (557,1428);
\node[lbl] (zerl) at (606,1385) {Zerlegung von Lebenslinien};
\draw[larr] (572,1391) -- (541,1427);
% sd Y
\draw[frm] (410,1407) rectangle (640,1537);
\fragtab{410}{1407}{18}{8}{\textbf{sd} Y}
\node[lbox,minimum width=42,minimum height=34] (yA) at (462,1445) {\underline{:A}};
\node[lbox,minimum width=43,minimum height=34, fill=bgc, align=center] (yL) at (535.5,1445) {\underline{L : C}\\\textbf{ref D}};
\node[lbox,minimum width=42,minimum height=34] (yB) at (609,1445) {\underline{:B}};
\draw[life] (yA.south) -- (462,1520);
\draw[life] (yL.south) -- (535.5,1520);
\draw[life] (yB.south) -- (609,1520);
\draw[msg] (462,1483) -- (535.5,1483);
\node[blk, font=\fontsize{5.5}{6}\selectfont] at (497,1479) {op1};
\draw[msg] (535.5,1503) -- (609,1503);
\node[blk, font=\fontsize{5.5}{6}\selectfont] at (573,1499) {a};
% sd Interaktion (float W)
\draw[frm] (423,1563) rectangle (635,1703);
\fragtab{423}{1563}{94}{10}{\textbf{sd} Interaktion (float W)}
\node[blk] (yint) at (548,1577) {- Y: integer};
\node[lbl] (lokv2) at (573,1589) {lokale\\Variable};
\node[lbl] (ipar) at (511,1594) {Interaktionsparameter};
\draw[larr] (556,1586) -- (543,1580);
\node[lbox,minimum width=34,minimum height=23] (fA) at (452,1598.5) {\underline{:A}};
\node[lbox,minimum width=35,minimum height=23] (fB) at (607.5,1598.5) {\underline{:B}};
\draw[life] (fA.south) -- (452,1695);
\draw[life] (fB.south) -- (607.5,1695);
\node[blk] (xg0) at (447,1620) {[X > 0]};
\draw[msg] (452,1645) -- (607.5,1645);
\node[blk] (nkon) at (535,1639) {n("Konstante", W, A.X, Y)};
\node[lbl] (kon) at (512,1676) {Konstante};
\node[lbl] (att) at (564,1676) {Attribut};
\draw[larr] (523,1670) -- (523,1647);
\draw[larr] (561,1670) -- (561,1647);
\draw[larr] (523,1599) -- (548,1635);
\draw[larr] (572,1598) -- (576,1633);

%================ 11: bottom right =================
\draw[frm] (673,1273) rectangle (818,1695);
\fragtab{673}{1273}{42}{10}{\textbf{sd} Name}
\node[lbox,minimum width=27,minimum height=12] (nA) at (720.5,1294) {\underline{\textbf{A}}};
\node[lbox,minimum width=27,minimum height=12] (nB) at (771.5,1294) {\underline{\textbf{B}}};
\draw[life] (nA.south) -- (720.5,1668);
\draw[life] (nB.south) -- (771.5,1668);
\draw[frm] (682,1305) rectangle (811,1381);
\fragtab{682}{1305}{16}{9}{\textbf{alt}}
\node[blk, anchor=west] at (683,1327) {[x=0]};
\draw[fsep] (682,1333) -- (811,1333);
\node[blk, anchor=west] at (683,1343) {[x=1]};
\draw[fsep] (682,1349) -- (811,1349);
\node[blk, anchor=west] at (683,1358) {\textbf{[else]}};
\draw[fsep] (682,1364) -- (811,1364);
\draw[frm] (681,1401) rectangle (812,1490);
\fragtab{681}{1401}{16}{9}{\textbf{alt}}
\node[draw=linec, line width=0.55pt, fill=bgc, rounded corners=5pt, minimum width=82, minimum height=21, blk] (jA1) at (746,1422.5) {A};
\draw[fsep] (681,1445) -- (812,1445);
\node[draw=linec, line width=0.55pt, fill=bgc, rounded corners=5pt, minimum width=82, minimum height=22, blk] (jB1) at (746,1468) {B};
\node[lbl] (spm1) at (851,1413) {Sprungmarke\\(Startmarke)};
\draw[larr] (827,1414) -- (jA1.east);
\draw[frm] (681,1502) rectangle (812,1672);
\fragtab{681}{1502}{16}{9}{\textbf{alt}}
\node[draw=linec, line width=0.55pt, fill=bgc, rounded corners=5pt, minimum width=82, minimum height=23, blk] (jA2) at (746,1524.5) {A};
\draw[msg] (720.5,1557) -- (771.5,1557);
\draw[msg] (771.5,1580) -- (720.5,1580);
\draw[fsep] (681,1592) -- (812,1592);
\node[draw=linec, line width=0.55pt, fill=bgc, rounded corners=5pt, minimum width=82, minimum height=24, blk] (jB2) at (746,1614) {B};
\draw[msg] (771.5,1637) -- (720.5,1637);
\draw[msg] (771.5,1658) -- (720.5,1658);
\node[lbl] (spm2) at (851,1516) {Sprungmarke\\(Zielmarke)};
\draw[larr] (827,1517) -- (jA2.east);
\node[lbl, anchor=west] (altf) at (819,1737) {alternatives Fragment};
\draw[larr] (838,1731) -- (803,1674);
\end{tikzpicture}
\end{document}
